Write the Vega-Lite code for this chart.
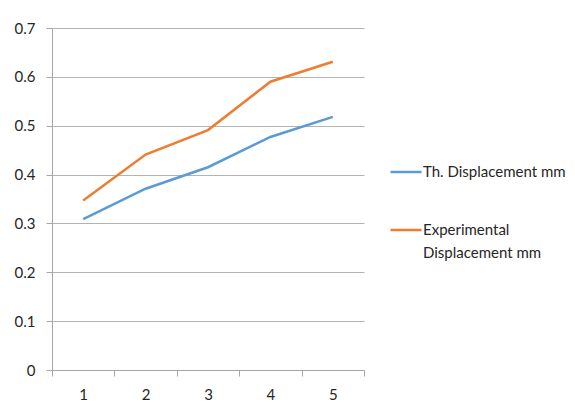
{
  "$schema": "https://vega.github.io/schema/vega-lite/v6.json",
  "width": 312,
  "height": 342,
  "autosize": "none",
  "padding": {"left": 52, "top": 28, "right": 211, "bottom": 45},
  "background": "white",
  "config": {
    "font": "Lato",
    "view": {"stroke": null}
  },
  "data": {
    "values": [
      {"x": "1", "s": "Th. Displacement mm", "v": 0.309},
      {"x": "2", "s": "Th. Displacement mm", "v": 0.371},
      {"x": "3", "s": "Th. Displacement mm", "v": 0.415},
      {"x": "4", "s": "Th. Displacement mm", "v": 0.477},
      {"x": "5", "s": "Th. Displacement mm", "v": 0.518},
      {"x": "1", "s": "Experimental Displacement mm", "v": 0.347},
      {"x": "2", "s": "Experimental Displacement mm", "v": 0.441},
      {"x": "3", "s": "Experimental Displacement mm", "v": 0.491},
      {"x": "4", "s": "Experimental Displacement mm", "v": 0.590},
      {"x": "5", "s": "Experimental Displacement mm", "v": 0.631}
    ]
  },
  "mark": {"type": "line", "strokeWidth": 2.5},
  "encoding": {
    "x": {
      "field": "x",
      "type": "ordinal",
      "bandPosition": 0.5,
      "scale": {"type": "band", "paddingInner": 0, "paddingOuter": 0},
      "axis": {
        "title": null,
        "labelAngle": 0,
        "tickBand": "extent",
        "tickSize": 6,
        "labelPadding": 11,
        "labelFontSize": 15,
        "labelColor": "#262626",
        "domainColor": "#a6a6a6",
        "tickColor": "#a6a6a6",
        "grid": false
      }
    },
    "y": {
      "field": "v",
      "type": "quantitative",
      "scale": {"domain": [0, 0.7], "nice": false, "zero": true},
      "axis": {
        "title": null,
        "values": [0, 0.1, 0.2, 0.3, 0.4, 0.5, 0.6, 0.7],
        "format": ".1~f",
        "tickSize": 6,
        "labelPadding": 11,
        "labelFontSize": 15,
        "labelColor": "#262626",
        "domainColor": "#a6a6a6",
        "tickColor": "#a6a6a6",
        "gridColor": "#b3b3b3",
        "gridWidth": 1.2
      }
    },
    "color": {
      "field": "s",
      "type": "nominal",
      "scale": {
        "domain": ["Th. Displacement mm", "Experimental Displacement mm"],
        "range": ["#5B9BD5", "#ED7D31"]
      },
      "legend": {
        "title": null,
        "orient": "none",
        "legendX": 337,
        "legendY": 127,
        "symbolType": "stroke",
        "symbolSize": 961,
        "symbolStrokeWidth": 2.5,
        "labelFontSize": 15,
        "labelColor": "#262626",
        "labelOffset": 0,
        "labelLimit": 300,
        "rowPadding": 33,
        "labelExpr": "datum.label == 'Experimental Displacement mm' ? ['Experimental', 'Displacement mm'] : datum.label",
        "encode": {
          "labels": {"update": {"lineHeight": {"value": 23}}}
        }
      }
    }
  }
}
